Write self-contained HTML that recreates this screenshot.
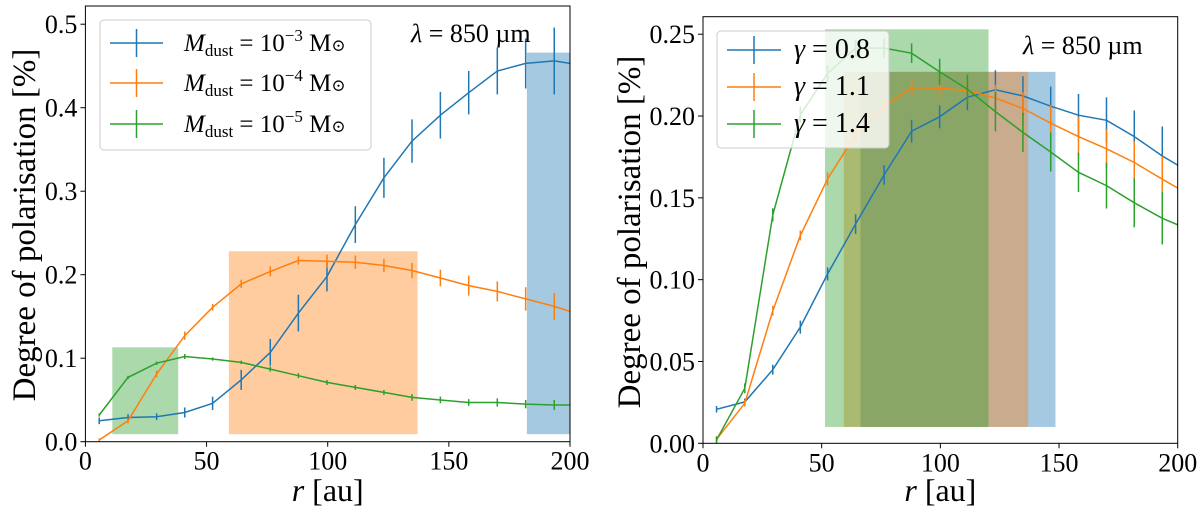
<!DOCTYPE html>
<html><head><meta charset="utf-8"><style>
html,body{margin:0;padding:0;background:#fff;}
svg{display:block;font-family:"Liberation Serif","DejaVu Serif",serif;}
</style></head><body>
<svg id="fig" width="1200" height="515" viewBox="0 0 1200 515"></svg>
<script>
const rVals=[5.7,17.6,29.4,41,52.5,64.3,76.3,87.9,99.7,111.4,123.2,134.8,146.5,158.2,170,181.7,193.5];
const L_blue=[0.025,0.029,0.030,0.035,0.046,0.074,0.107,0.154,0.198,0.26,0.316,0.360,0.391,0.418,0.444,0.453,0.456];
const L_blueErr=[0.004,0.004,0.004,0.006,0.008,0.012,0.016,0.022,0.018,0.022,0.024,0.026,0.028,0.026,0.028,0.03,0.04];
const L_orange=[0.002,0.025,0.081,0.127,0.161,0.189,0.204,0.217,0.216,0.215,0.211,0.205,0.196,0.187,0.180,0.171,0.162];
const L_orangeErr=[0.002,0.003,0.004,0.005,0.004,0.005,0.006,0.005,0.008,0.008,0.008,0.009,0.01,0.012,0.012,0.014,0.016];
const L_green=[0.032,0.077,0.094,0.102,0.099,0.095,0.087,0.079,0.071,0.065,0.059,0.053,0.050,0.047,0.047,0.045,0.044];
const L_greenErr=[0.002,0.002,0.002,0.003,0.002,0.002,0.003,0.003,0.003,0.003,0.003,0.004,0.004,0.004,0.005,0.005,0.006];
const L_end=[0.453,0.156,0.044];
const R_blue=[0.0208,0.0253,0.045,0.071,0.1035,0.134,0.164,0.1907,0.1995,0.2115,0.216,0.2123,0.206,0.2005,0.1974,0.1874,0.1756];
const R_orange=[0.0024,0.0245,0.081,0.127,0.1616,0.1885,0.206,0.2174,0.217,0.2156,0.211,0.2046,0.1956,0.1874,0.180,0.1716,0.1614];
const R_green=[0.002,0.0336,0.1396,0.2007,0.226,0.2415,0.2415,0.2384,0.227,0.2164,0.2027,0.19,0.178,0.1656,0.1575,0.147,0.1375];
const R_blueErr=[0.002,0.002,0.003,0.004,0.004,0.006,0.006,0.007,0.007,0.008,0.012,0.012,0.012,0.013,0.014,0.016,0.018];
const R_orangeErr=[0.002,0.002,0.003,0.003,0.004,0.004,0.005,0.005,0.006,0.007,0.008,0.01,0.011,0.012,0.012,0.013,0.014];
const R_greenErr=[0.002,0.003,0.004,0.005,0.005,0.005,0.006,0.006,0.008,0.009,0.012,0.012,0.012,0.012,0.014,0.015,0.016];
const R_end=[0.170,0.156,0.1335];
const L_bands=[[182.2,200,0.009,0.466],[59.2,137.1,0.009,0.228],[11.1,38.3,0.009,0.113]];
const R_bands=[[66.3,148.5,0.01,0.227],[59.3,137,0.01,0.227],[51.4,120.3,0.01,0.253]];
const L_yticks=[0,0.1,0.2,0.3,0.4,0.5];
const L_ytickLabels=["0.0","0.1","0.2","0.3","0.4","0.5"];
const R_yticks=[0,0.05,0.1,0.15,0.2,0.25];
const R_ytickLabels=["0.00","0.05","0.10","0.15","0.20","0.25"];
const xticks=[0,50,100,150,200];
const colors=["#1f77b4","#ff7f0e","#2ca02c"];

const NS="http://www.w3.org/2000/svg";
const svg=document.getElementById('fig');
function mk(tag,attrs,parent){const e=document.createElementNS(NS,tag);for(const k in attrs)e.setAttribute(k,attrs[k]);(parent||svg).appendChild(e);return e;}

function panel(p){
  const g=mk('g',{});
  
  
  const X=v=>p.x0+(v-0)/200*(p.x1-p.x0);
  const Y=v=>p.y0-(v/p.ymax)*(p.y0-p.y1);
  p.bands.forEach((b,i)=>{
    const r=mk('rect',{x:X(b[0]),y:Y(b[3]),width:X(b[1])-X(b[0]),height:Y(b[2])-Y(b[3]),fill:colors[i],'fill-opacity':0.4},g);
    
    
  });
  p.series.forEach((s,si)=>{
    const sg=mk('g',{},g);
    
    
    let d='';
    rVals.forEach((r,i)=>{d+=(i?'L':'M')+X(r).toFixed(1)+','+Y(s[i]).toFixed(1);});
    d+='L'+X(200)+','+Y(p.ends[si]).toFixed(1);
    const pl=mk('path',{d:d,fill:'none',stroke:colors[si],'stroke-width':1.5},sg);
    
    
    rVals.forEach((r,i)=>{
      const e=p.errs[si][i];
      const eb=mk('line',{x1:X(r),x2:X(r),y1:Y(s[i]-e),y2:Y(s[i]+e),stroke:colors[si],'stroke-width':1.5},sg);
      
      
    });
  });
  const fr=mk('rect',{x:p.x0,y:p.yTop,width:p.x1-p.x0,height:p.y0-p.yTop,fill:'none',stroke:'#000','stroke-width':1},g);
  
  
  xticks.forEach(t=>{
    mk('line',{x1:X(t),x2:X(t),y1:p.y0,y2:p.y0+5,stroke:'#000'},g);
    const tx=mk('text',{x:X(t),y:p.y0+28,'font-size':26,'text-anchor':'middle'},g);
    tx.textContent=t;
    
    
  });
  p.yt.forEach((t,i)=>{
    mk('line',{x1:p.x0-5,x2:p.x0,y1:Y(t),y2:Y(t),stroke:'#000'},g);
    const tx=mk('text',{x:p.x0-8,y:Y(t)+9,'font-size':26,'text-anchor':'end'},g);
    tx.textContent=p.ytl[i];
    
    
  });
  const xl=mk('text',{x:(p.x0+p.x1)/2,y:501,'font-size':32,'text-anchor':'middle'},g);
  xl.innerHTML='<tspan font-style="italic">r</tspan> [au]';
  
  
  const yl=mk('text',{x:0,y:0,'font-size':33,'text-anchor':'middle',transform:`translate(${p.ylx},${p.yly}) rotate(-90)`},g);
  yl.textContent='Degree of polarisation [%]';
  
  
  const lam=mk('text',{x:p.lamx,y:p.lamy,'font-size':26},g);
  lam.innerHTML='<tspan font-style="italic">λ</tspan> = 850 µm';
  
  
  const lg=mk('g',{},g);
  
  
  mk('rect',{x:p.leg[0],y:p.leg[1],width:p.leg[2],height:p.leg[3],rx:4,fill:'#fff','fill-opacity':0.8,stroke:'#ccc'},lg);
  p.labels.forEach((lb,i)=>{
    const yy=p.legY[i];
    const ent=mk('g',{},lg);
    
    
    mk('line',{x1:p.legLine[0],x2:p.legLine[1],y1:yy,y2:yy,stroke:colors[i],'stroke-width':1.5},ent);
    const mx=(p.legLine[0]+p.legLine[1])/2;
    mk('line',{x1:mx,x2:mx,y1:yy-14,y2:yy+14,stroke:colors[i],'stroke-width':1.5},ent);
    const t=mk('text',{x:p.legText,y:yy+8,'font-size':p.legFont},ent);
    t.innerHTML=lb.html;
  });
}

function mlab(e){return '<tspan font-style="italic">M</tspan><tspan font-size="17" dy="5">dust</tspan><tspan dy="-5"> = 10</tspan><tspan font-size="17" dy="-10">−'+e+'</tspan><tspan dy="10"> M</tspan><tspan font-size="17">⊙</tspan>';}

panel({name:'left-panel',x0:85.4,x1:570,y0:441.7,yTop:6,ymax:0.5218,y1:6,
  bands:L_bands,series:[L_blue,L_orange,L_green],errs:[L_blueErr,L_orangeErr,L_greenErr],ends:L_end,
  yt:L_yticks,ytl:L_ytickLabels,ylx:35,yly:225,lamx:411,lamy:42,
  leg:[100,20,271,130],legY:[43,83,124],legLine:[110,163],legText:184,legFont:25,
  labels:[
    {key:'mdust-1e-3',html:mlab(3)},
    {key:'mdust-1e-4',html:mlab(4)},
    {key:'mdust-1e-5',html:mlab(5)}
  ]});
panel({name:'right-panel',x0:703,x1:1177.7,y0:443.3,yTop:16.7,ymax:0.2607,y1:16.7,
  bands:R_bands,series:[R_blue,R_orange,R_green],errs:[R_blueErr,R_orangeErr,R_greenErr],ends:R_end,
  yt:R_yticks,ytl:R_ytickLabels,ylx:640,yly:232,lamx:1023,lamy:54,
  leg:[717,31,172,117],legY:[50,87,124],legLine:[727,781],legText:794,legFont:28,
  labels:[
    {key:'gamma-0.8',html:'<tspan font-style="italic">γ</tspan> = 0.8'},
    {key:'gamma-1.1',html:'<tspan font-style="italic">γ</tspan> = 1.1'},
    {key:'gamma-1.4',html:'<tspan font-style="italic">γ</tspan> = 1.4'}
  ]});
</script>
</body></html>
